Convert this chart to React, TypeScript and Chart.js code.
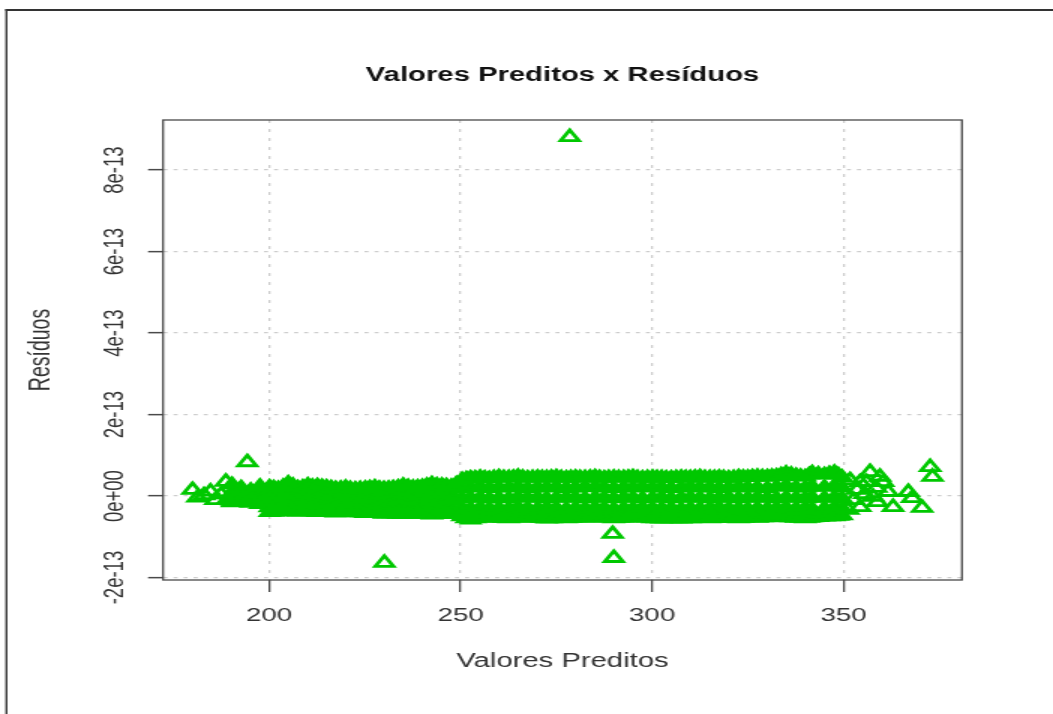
import { useEffect, useRef } from "react";
import { Chart, registerables } from "chart.js";

Chart.register(...registerables);

// ---- data (residuals are written in units of 1e-13) ----
const xTicks = [200, 250, 300, 350];
const yTicks = [-2e-13, 0, 2e-13, 4e-13, 6e-13, 8e-13];
const xLimits = [172.3, 380.9];
const yLimits = [-2.06e-13, 9.23e-13];

const bandX = [
  190.3, 192.7, 195.2, 197.6,
  200.1, 202.4, 205.0, 207.5, 210.1, 212.6, 215.0, 217.4, 220.0, 222.5,
  225.1, 227.6, 230.0, 232.4, 235.0, 237.6, 240.0, 242.5, 245.1, 247.6,
  250.4, 252.6, 255.1, 257.5, 260.0, 262.6, 265.0, 267.5, 270.1, 272.5,
  275.0, 277.6, 280.0, 282.5, 285.1, 287.5, 290.0, 292.6, 295.0, 297.5,
  300.1, 302.5, 305.0, 307.6, 310.0, 312.5, 315.1, 317.5, 320.0, 322.6,
  325.0, 327.5, 330.1, 332.5, 335.0, 337.6, 340.0, 341.8, 345.0, 347.6,
  349.6,
];
const bandTop = [
  0.28, 0.2, 0.14, 0.24,
  0.22, 0.18, 0.32, 0.2, 0.27, 0.25, 0.22, 0.18, 0.21, 0.17,
  0.19, 0.22, 0.18, 0.2, 0.26, 0.21, 0.23, 0.3, 0.26, 0.24,
  0.4, 0.44, 0.46, 0.43, 0.47, 0.45, 0.48, 0.44, 0.46, 0.45,
  0.47, 0.44, 0.46, 0.45, 0.47, 0.44, 0.46, 0.45, 0.47, 0.44,
  0.46, 0.45, 0.44, 0.46, 0.45, 0.47, 0.45, 0.46, 0.44, 0.47,
  0.46, 0.48, 0.47, 0.49, 0.56, 0.5, 0.47, 0.57, 0.52, 0.58,
  0.46,
];
const bandUpper = [
  0.08, 0.04, 0.06, 0.1,
  0.05, 0.02, 0.1, 0.04, 0.06, 0.08, 0.03, 0.02, 0.05, 0.01,
  0.04, 0.05, 0.02, 0.04, 0.07, 0.03, 0.05, 0.08, 0.06, 0.04,
  0.18, 0.2, 0.22, 0.19, 0.21, 0.2, 0.22, 0.19, 0.21, 0.2,
  0.22, 0.19, 0.2, 0.21, 0.22, 0.2, 0.19, 0.21, 0.2, 0.22,
  0.2, 0.21, 0.19, 0.2, 0.22, 0.2, 0.21, 0.19, 0.2, 0.22,
  0.2, 0.21, 0.19, 0.22, 0.25, 0.21, 0.2, 0.23, 0.22, 0.24,
  0.2,
];
const bandMiddle = [
  -0.05, -0.08, -0.02, -0.06,
  -0.12, -0.15, -0.1, -0.14, -0.12, -0.11, -0.15, -0.13, -0.12, -0.16,
  -0.12, -0.13, -0.15, -0.12, -0.11, -0.14, -0.12, -0.1, -0.13, -0.12,
  -0.06, -0.05, -0.04, -0.07, -0.05, -0.06, -0.03, -0.05, -0.04, -0.06,
  -0.05, -0.04, -0.05, -0.06, -0.04, -0.05, -0.06, -0.04, -0.05, -0.06,
  -0.05, -0.04, -0.06, -0.05, -0.04, -0.05, -0.06, -0.05, -0.04, -0.06,
  -0.05, -0.04, -0.05, -0.06, -0.04, -0.05, -0.06, -0.04, -0.05, -0.04,
  -0.06,
];
const bandLower = [
  -0.12, -0.14, -0.1, -0.15,
  -0.28, -0.3, -0.27, -0.31, -0.29, -0.3, -0.28, -0.31, -0.29, -0.32,
  -0.3, -0.31, -0.33, -0.3, -0.32, -0.31, -0.3, -0.32, -0.31, -0.3,
  -0.3, -0.31, -0.29, -0.32, -0.3, -0.31, -0.28, -0.3, -0.31, -0.29,
  -0.3, -0.32, -0.3, -0.31, -0.29, -0.3, -0.32, -0.3, -0.31, -0.29,
  -0.3, -0.31, -0.3, -0.32, -0.3, -0.31, -0.3, -0.29, -0.31, -0.3,
  -0.32, -0.3, -0.31, -0.3, -0.29, -0.31, -0.3, -0.32, -0.3, -0.29,
  -0.31,
];
const bandBottom = [
  -0.16, -0.13, -0.17, -0.2,
  -0.4, -0.38, -0.36, -0.39, -0.37, -0.4, -0.38, -0.41, -0.39, -0.4,
  -0.42, -0.41, -0.44, -0.43, -0.45, -0.44, -0.43, -0.46, -0.44, -0.42,
  -0.5, -0.58, -0.52, -0.54, -0.53, -0.55, -0.52, -0.54, -0.53, -0.56,
  -0.54, -0.55, -0.53, -0.54, -0.52, -0.53, -0.55, -0.54, -0.52, -0.53,
  -0.55, -0.56, -0.55, -0.56, -0.55, -0.54, -0.55, -0.53, -0.54, -0.55,
  -0.53, -0.54, -0.52, -0.53, -0.52, -0.54, -0.55, -0.53, -0.51, -0.5,
  -0.48,
];
// points lying between the columns above, along the band's upper and lower edges
const edgeX = [
  201.2, 203.7, 206.2, 208.8, 211.3, 213.8, 216.2, 218.7, 221.2, 223.8,
  226.3, 228.8, 231.2, 233.7, 236.3, 238.8, 241.2, 243.8, 246.3, 248.9,
  251.5, 253.8, 256.3, 258.7, 261.3, 263.8, 266.2, 268.8, 271.3, 273.7,
  276.3, 278.8, 281.2, 283.8, 286.3, 288.7, 291.3, 293.8, 296.2, 298.8,
  301.3, 303.7, 306.3, 308.8, 311.2, 313.8, 316.3, 318.7, 321.3, 323.8,
  326.2, 328.8, 331.3, 333.7, 336.3, 338.8, 341.0, 343.4, 346.3, 348.6,
];
const edgeTop = [
  0.2, 0.24, 0.26, 0.22, 0.24, 0.23, 0.2, 0.19, 0.18, 0.18,
  0.2, 0.19, 0.19, 0.22, 0.23, 0.22, 0.26, 0.27, 0.25, 0.3,
  0.42, 0.44, 0.44, 0.45, 0.45, 0.46, 0.46, 0.45, 0.45, 0.46,
  0.45, 0.45, 0.45, 0.46, 0.45, 0.45, 0.45, 0.46, 0.45, 0.45,
  0.45, 0.44, 0.45, 0.45, 0.46, 0.45, 0.45, 0.45, 0.45, 0.46,
  0.47, 0.47, 0.48, 0.52, 0.53, 0.48, 0.52, 0.54, 0.55, 0.52,
];
const edgeBottom = [
  -0.39, -0.37, -0.37, -0.38, -0.38, -0.39, -0.4, -0.4, -0.39, -0.41,
  -0.41, -0.42, -0.43, -0.44, -0.44, -0.43, -0.44, -0.45, -0.43, -0.45,
  -0.55, -0.55, -0.53, -0.53, -0.54, -0.53, -0.53, -0.53, -0.54, -0.55,
  -0.54, -0.54, -0.53, -0.53, -0.52, -0.54, -0.54, -0.53, -0.52, -0.54,
  -0.55, -0.55, -0.55, -0.55, -0.54, -0.54, -0.54, -0.53, -0.54, -0.54,
  -0.53, -0.53, -0.52, -0.52, -0.53, -0.54, -0.54, -0.52, -0.5, -0.49,
];
const leftTail: [number, number][] = [
  [180.0, 0.15], [181.3, -0.04], [183.0, 0.02], [184.7, 0.11],
  [186.0, -0.1], [187.5, 0.04], [188.7, 0.35], [189.2, -0.08],
];
const rightTail: [number, number][] = [
  [351.2, -0.34], [351.7, 0.39], [352.6, -0.1], [353.5, 0.15], [354.3, 0.34],
  [354.3, -0.27], [355.5, 0.05], [356.0, 0.34], [356.9, 0.59], [357.7, -0.02],
  [358.5, 0.2], [358.8, -0.15], [359.5, 0.47], [360.3, 0.34], [361.6, 0.1],
  [362.9, -0.27], [366.9, 0.1], [367.9, -0.05], [370.5, -0.29], [372.6, 0.71],
  [373.2, 0.47],
];
const outliers: [number, number][] = [
  [194.3, 0.83], [230.1, -1.64], [278.5, 8.81], [289.7, -0.93], [290.0, -1.52],
];

// ---- build datasets ----
const toPoint = (x: number, r: number) => ({ x, y: r * 1e-13 });
const bandRows = [bandTop, bandUpper, bandMiddle, bandLower, bandBottom];
const bandPoints = [
  ...bandX.flatMap((x, i) => bandRows.map((row) => toPoint(x, row[i]))),
  ...edgeX.flatMap((x, i) => [toPoint(x, edgeTop[i]), toPoint(x, edgeBottom[i])]),
];
const sparsePoints = [
  ...leftTail.map(([x, r]) => toPoint(x, r)),
  ...rightTail.map(([x, r]) => toPoint(x, r)),
  ...outliers.map(([x, r]) => toPoint(x, r)),
];

const GREEN = "#00C800";
const FONT = "'Liberation Sans', Arial, Helvetica, sans-serif";
const CANVAS_W = 702; // drawn narrow, shown stretched to 1053px like the reference
const CANVAS_H = 714;

const fmtY = (v: number) => {
  const m = Math.round(v / 1e-13);
  return m === 0 ? "0e+00" : `${m}e-13`;
};

const framePlugin = {
  id: "rframe",
  afterDraw(chart: any) {
    const { ctx, chartArea: a } = chart;
    ctx.save();
    ctx.setLineDash([]);
    ctx.strokeStyle = "#4a4a4a";
    ctx.lineWidth = 1.3;
    ctx.strokeRect(a.left, a.top, a.right - a.left, a.bottom - a.top);
    ctx.strokeStyle = "#333";
    ctx.lineWidth = 2;
    ctx.beginPath();
    ctx.moveTo(3.6, 10);
    ctx.lineTo(chart.width, 10);
    ctx.stroke();
    ctx.lineWidth = 1.4;
    ctx.beginPath();
    ctx.moveTo(4.3, 9);
    ctx.lineTo(4.3, chart.height);
    ctx.stroke();
    ctx.restore();
  },
};

export default function App() {
  const ref = useRef<HTMLCanvasElement>(null);
  useEffect(() => {
    document.body.style.margin = "0";
    const canvas = ref.current!;
    const chart = new Chart(canvas, {
      type: "scatter",
      data: {
        datasets: [
          {
            data: bandPoints,
            pointStyle: "triangle",
            pointRadius: 7,
            pointHoverRadius: 7,
            borderWidth: 2.4,
            borderColor: GREEN,
            backgroundColor: GREEN,
          },
          {
            data: sparsePoints,
            pointStyle: "triangle",
            pointRadius: 7,
            pointHoverRadius: 7,
            borderWidth: 2.8,
            borderColor: GREEN,
            backgroundColor: "rgba(0,0,0,0)",
          },
        ],
      },
      options: {
        responsive: false,
        animation: false,
        devicePixelRatio: 1,
        events: [],
        layout: { padding: { left: 0, right: 60.7, top: 0, bottom: 0 } },
        plugins: {
          legend: { display: false },
          tooltip: { enabled: false },
          title: {
            display: true,
            fullSize: false,
            text: "Valores Preditos x Resíduos",
            color: "#111",
            font: { family: FONT, size: 19.5, weight: "bold", lineHeight: 1.2 },
            padding: { top: 63.5, bottom: 33.1 },
          },
        },
        scales: {
          x: {
            type: "linear",
            min: xLimits[0],
            max: xLimits[1],
            z: 1,
            afterBuildTicks: (s: any) => {
              s.ticks = xTicks.map((v) => ({ value: v }));
            },
            afterFit: (s: any) => {
              s.height = 134;
            },
            grid: {
              color: "#cdcdcd",
              lineWidth: 1.3,
              drawTicks: true,
              tickLength: 12,
              tickColor: "#4a4a4a",
              tickWidth: 1.3,
            },
            border: { display: false, dash: [3, 6] },
            ticks: {
              color: "#333",
              font: { family: FONT, size: 18.5 },
              padding: 12.4,
              maxRotation: 0,
              autoSkip: false,
              callback: (v: any) => String(v),
            },
            title: {
              display: true,
              text: "Valores Preditos",
              color: "#333",
              font: { family: FONT, size: 19.5 },
              padding: { top: 0, bottom: 40.3 },
            },
          },
          y: {
            type: "linear",
            min: yLimits[0],
            max: yLimits[1],
            z: 1,
            afterBuildTicks: (s: any) => {
              s.ticks = yTicks.map((v) => ({ value: v }));
            },
            afterFit: (s: any) => {
              s.width = 108.7;
            },
            grid: {
              color: "#cdcdcd",
              lineWidth: 1.3,
              drawTicks: true,
              tickLength: 10,
              tickColor: "#4a4a4a",
              tickWidth: 1.5,
            },
            border: { display: false, dash: [2.7, 4] },
            ticks: {
              color: "#333",
              font: { family: FONT, size: 18.5 },
              padding: -5.3,
              minRotation: 90,
              maxRotation: 90,
              crossAlign: "center",
              autoSkip: false,
              callback: (v: any) => fmtY(Number(v)),
            },
            title: {
              display: true,
              text: "Resíduos",
              color: "#333",
              font: { family: FONT, size: 19.5 },
              padding: { top: 16.4, bottom: 0 },
            },
          },
        },
      },
      plugins: [framePlugin],
    } as any);
    return () => chart.destroy();
  }, []);

  return (
    <div style={{ width: 1053, height: 714, overflow: "hidden", background: "#fff" }}>
      <canvas
        ref={ref}
        width={CANVAS_W}
        height={CANVAS_H}
        style={{ width: "1053px", height: "714px", display: "block" }}
      />
    </div>
  );
}
